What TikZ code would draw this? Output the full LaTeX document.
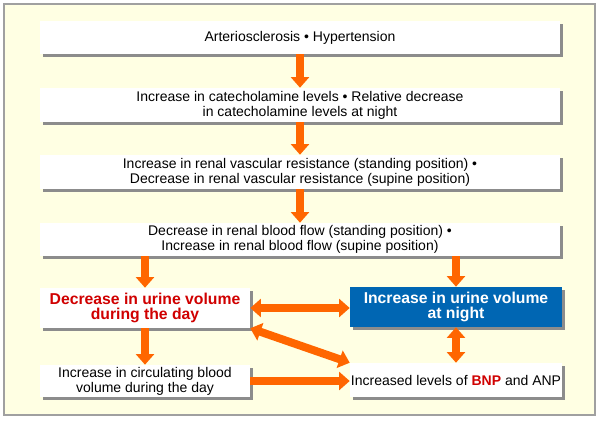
\documentclass[tikz,border=0pt]{standalone}
\usepackage{fontspec}
\setmainfont{Liberation Sans}
\usetikzlibrary{arrows.meta,shadows}
\definecolor{cream}{HTML}{FFFFE3}
\definecolor{frame}{HTML}{A0A0A0}
\definecolor{arrorange}{HTML}{FF6600}
\definecolor{boxblue}{HTML}{0066B3}
\definecolor{txtred}{HTML}{D00000}
\definecolor{shad}{HTML}{8C8C8C}
\tikzset{
  box/.style={draw=none, fill=white, inner sep=0pt, align=center,
    font=\fontsize{10.5}{11.25}\selectfont,
    drop shadow={shadow xshift=2pt, shadow yshift=-2pt, fill=shad, opacity=1}},
  bigbox/.style={box, font=\fontsize{11.8}{11.5}\selectfont\bfseries},
  arr/.style={draw=arrorange, line width=6pt,
    -{Triangle[width=13.5pt,length=8pt]}},
  darr/.style={draw=arrorange, line width=6pt,
    {Triangle[width=13.5pt,length=8pt]}-{Triangle[width=13.5pt,length=8pt]}}
}
\begin{document}
\begin{tikzpicture}[x=0.75pt,y=-0.75pt]
\useasboundingbox (0,0) rectangle (600,421);
\fill[white] (0,0) rectangle (600,421);
\draw[frame, fill=cream, line width=1.5pt] (4,4) rectangle (595,415);

\node[box, minimum width=390pt, minimum height=24.75pt] (b1) at (300,37.5)
  {Arteriosclerosis • Hypertension};
\node[box, minimum width=390pt, minimum height=25.5pt] (b2) at (300,105)
  {Increase in catecholamine levels • Relative decrease\\in catecholamine levels at night};
\node[box, minimum width=390pt, minimum height=25.5pt] (b3) at (300,172)
  {Increase in renal vascular resistance (standing position) •\\Decrease in renal vascular resistance (supine position)};
\node[box, minimum width=390pt, minimum height=24.75pt] (b4) at (300,239.5)
  {Decrease in renal blood flow (standing position) •\\Increase in renal blood flow (supine position)};
\node[bigbox, text=txtred, minimum width=157.5pt, minimum height=30pt] (b5) at (145,308)
  {Decrease in urine volume\\during the day};
\node[bigbox, fill=boxblue, text=white, minimum width=159pt, minimum height=30pt] (b6) at (456,307)
  {Increase in urine volume\\at night};
\node[box, minimum width=157.5pt, minimum height=24pt] (b7) at (145,381)
  {Increase in circulating blood\\volume during the day};
\node[box, minimum width=159pt, minimum height=25.5pt] (b8) at (456,380)
  {Increased levels of \textcolor{txtred}{\bfseries BNP} and ANP};

\draw[arr] (b1.south) -- (b2.north);
\draw[arr] (b2.south) -- (b3.north);
\draw[arr] (b3.south) -- (b4.north);
\draw[arr] (b4.south -| b5.north) -- (b5.north);
\draw[arr] (b4.south -| b6.north) -- (b6.north);
\draw[arr] (b5.south) -- (b7.north);
\draw[darr] (b5.east) -- (b5.east -| b6.west);
\draw[darr] (b5.south east) -- (b8.north west);
\draw[darr] (b6.south) -- (b8.north);
\draw[arr] (b7.east) -- (b7.east -| b8.west);
\end{tikzpicture}
\end{document}
